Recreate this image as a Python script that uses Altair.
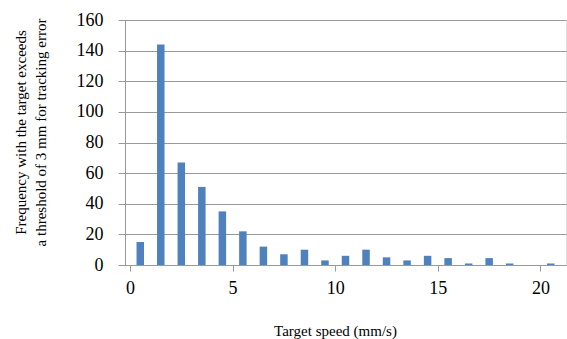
import altair as alt
import pandas as pd

speeds = list(range(21))
freqs = [15, 144, 67, 51, 35, 22, 12, 7, 10, 3, 6, 10, 5, 3, 6, 4.5, 1, 4.5, 1, 0, 1]

df = pd.DataFrame({"speed": [s + 0.5 for s in speeds], "freq": freqs})

FONT = "Liberation Serif"

chart = alt.Chart(df).mark_bar(color="#4F81BD", size=7.5).encode(
    x=alt.X("speed:Q",
            scale=alt.Scale(domain=[0, 21], nice=False, zero=False),
            axis=alt.Axis(values=[0, 5, 10, 15, 20], title="Target speed (mm/s)",
                          grid=False, tickSize=6, tickColor="#999999",
                          domainColor="#999999", labelFont=FONT, labelFontSize=18,
                          labelColor="#000000", labelPadding=8, labelFlush=False,
                          titleFont=FONT, titleFontSize=15, titleFontWeight="normal",
                          titleColor="#000000", titleX=210, titleY=65,
                          titleBaseline="middle", titleAlign="center")),
    y=alt.Y("freq:Q",
            scale=alt.Scale(domain=[0, 160], nice=False),
            axis=alt.Axis(values=list(range(0, 161, 20)),
                          title=["Frequency with the target exceeds",
                                 "a threshold of 3 mm for tracking error"],
                          grid=True, gridColor="#999999", tickSize=7,
                          tickColor="#999999", domainColor="#999999",
                          labelFont=FONT, labelFontSize=18, labelColor="#000000",
                          labelPadding=15,
                          titleFont=FONT, titleFontSize=15, titleFontWeight="normal",
                          titleColor="#000000", titleX=-105, titleY=112,
                          titleAlign="center", titleBaseline="middle",
                          titleLineHeight=20)),
).properties(
    width=441, height=245,
    autosize=alt.AutoSizeParams(type="none"),
    padding={"left": 125, "top": 20, "right": 1, "bottom": 74},
).configure_view(stroke=None).configure(background="white", font=FONT)

chart.save("out.html", embed_options={"renderer": "svg", "actions": False})
